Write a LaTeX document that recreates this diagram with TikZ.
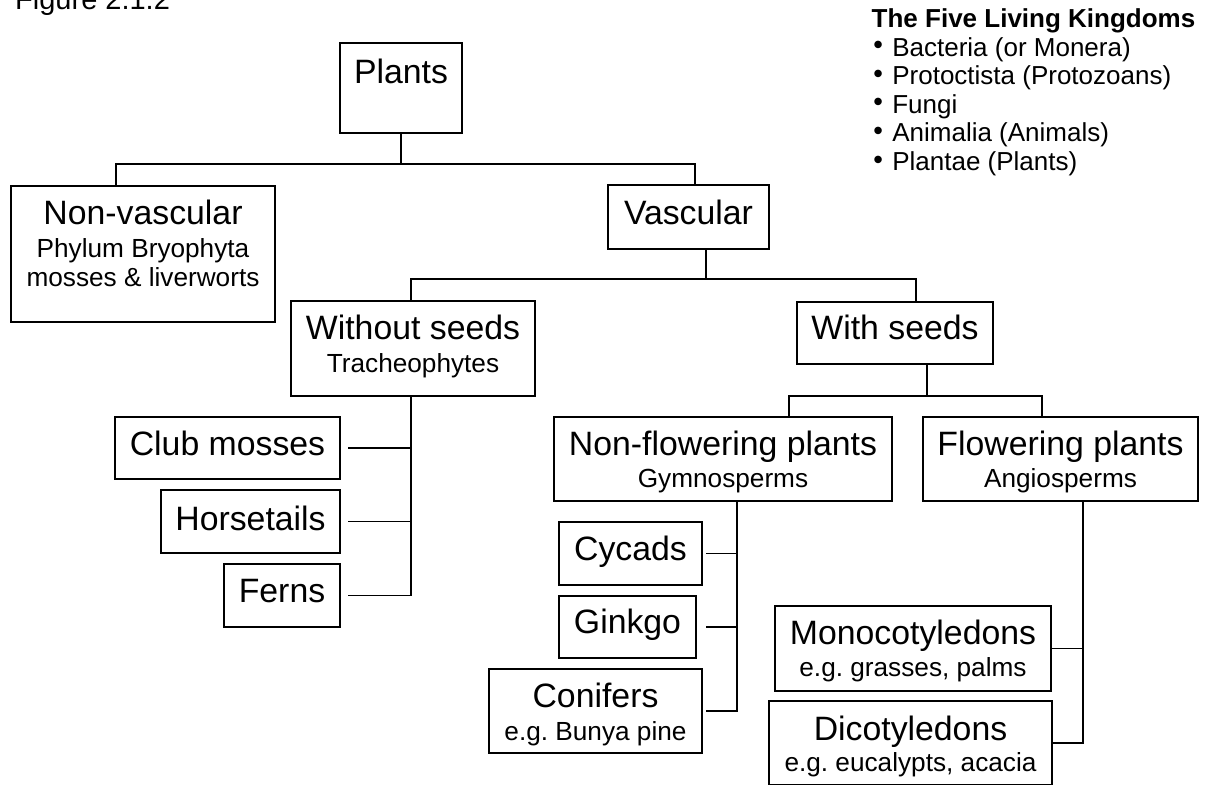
\documentclass[tikz,border=0pt]{standalone}
\usepackage{fontspec}
\setmainfont{Liberation Sans}
\newcommand{\tsub}[1]{{\fontsize{26.2}{29}\selectfont #1}}
\newcommand{\hgt}[1]{\rule{0pt}{#1pt}}
\newcommand{\dpt}[1]{\rule[-#1pt]{0pt}{#1pt}}
\newcommand{\kb}{\hspace*{2pt}\raisebox{2.5pt}{\textbf{\textbullet}}\hspace{9.5pt}}
\tikzset{
  box/.style={draw, line width=1.8pt, inner sep=0pt, align=center, font=\fontsize{33.8}{33}\selectfont},
  link/.style={line width=1.8pt}
}

\begin{document}
\frenchspacing
\begin{tikzpicture}[x=1pt,y=-1pt]
\useasboundingbox (0,0) rectangle (1209,784);
\node[anchor=base west, inner sep=0pt, font=\fontsize{29}{29}\selectfont] (fig) at (15,10) {Figure 2.1.2};
\node[anchor=north west, inner sep=0pt, align=left, font=\fontsize{26}{28.6}\selectfont] (kingdoms) at (871.5,8.5)
  {\textbf{The Five Living Kingdoms}\\ \kb Bacteria (or Monera)\\ \kb Protoctista (Protozoans)\\ \kb Fungi\\ \kb Animalia (Animals)\\ \kb Plantae (Plants)};

\node[box, minimum width=122pt, minimum height=90pt] (plants) at (401,88) {Plants\dpt{33}};
\node[box, minimum width=264pt, minimum height=136pt] (nonvasc) at (143,254)
  {Non-vascular\\ \tsub{Phylum Bryophyta}\\[-4pt] \tsub{mosses \& liverworts\dpt{22.2}}};
\node[box, minimum width=161pt, minimum height=64pt] (vasc) at (688.5,217) {Vascular\dpt{10.2}};
\node[box, minimum width=244pt, minimum height=95pt] (wos) at (413,348.5) {Without seeds\\ \tsub{Tracheophytes\dpt{10.2}}};
\node[box, minimum width=196pt, minimum height=62pt] (ws) at (895,333) {With seeds\dpt{11.4}};
\node[box, minimum width=225pt, minimum height=62pt] (club) at (227.5,448) {Club mosses\dpt{8.8}};
\node[box, minimum width=179pt, minimum height=63pt] (horse) at (250.5,521.5) {Horsetails\dpt{7.2}};
\node[box, minimum width=116pt, minimum height=63pt] (ferns) at (282,595.5) {Ferns\dpt{9.8}};
\node[box, minimum width=338pt, minimum height=84pt] (nonflow) at (723,459) {\hgt{29.5}Non-flowering plants\\[-1pt] \tsub{Gymnosperms}};
\node[box, minimum width=275pt, minimum height=84pt] (flow) at (1060.5,459) {\hgt{29.5}Flowering plants\\[-1pt] \tsub{Angiosperms}};
\node[box, minimum width=143pt, minimum height=63pt] (cycads) at (630.5,553.5) {Cycads\dpt{11.2}};
\node[box, minimum width=137pt, minimum height=62pt] (ginkgo) at (627.5,627) {Ginkgo\dpt{11.6}};
\node[box, minimum width=213pt, minimum height=84pt] (conifers) at (595.5,711) {\hgt{30.5}Conifers\\ \tsub{e.g. Bunya pine}};
\node[box, minimum width=276pt, minimum height=85pt] (mono) at (913,648.5) {\hgt{28.5}Monocotyledons\\[-1pt] \tsub{e.g. grasses, palms}};
\node[box, minimum width=283pt, minimum height=84pt] (dicot) at (910.5,743) {\hgt{30.5}Dicotyledons\\[-2pt] \tsub{e.g. eucalypts, acacia}};

% plants
\coordinate (b1) at (401,164);
\coordinate (b1l) at (116,164);
\coordinate (b1r) at (695,164);
\draw[link] (plants.south) -- (b1);
\draw[link] (nonvasc.north -| b1l) -- (b1l) -- (b1r) -- (vasc.north -| b1r);

% vascular
\coordinate (b2) at (706,279);
\coordinate (b2l) at (411,279);
\coordinate (b2r) at (916,279);
\draw[link] (vasc.south -| b2) -- (b2);
\draw[link] (wos.north -| b2l) -- (b2l) -- (b2r) -- (ws.north -| b2r);

% without seeds
\coordinate (s1) at (411,0);
\coordinate (e1) at (348,0);
\draw[link] (wos.south -| s1) -- (ferns.east -| s1) -- (ferns.east -| e1);
\draw[link] (club.east -| e1) -- (club.east -| s1);
\draw[link] (horse.east -| e1) -- (horse.east -| s1);

% with seeds
\coordinate (b3) at (927,396);
\coordinate (b3l) at (789,396);
\coordinate (b3r) at (1042,396);
\draw[link] (ws.south -| b3) -- (b3);
\draw[link] (nonflow.north -| b3l) -- (b3l) -- (b3r) -- (flow.north -| b3r);

% gymnosperms
\coordinate (s2) at (737,0);
\coordinate (e2) at (706,0);
\draw[link] (nonflow.south -| s2) -- (conifers.east -| s2) -- (conifers.east -| e2);
\draw[link] (cycads.east -| e2) -- (cycads.east -| s2);
\draw[link] (ginkgo.east -| e2) -- (ginkgo.east -| s2);

% angiosperms
\coordinate (s3) at (1083,0);
\draw[link] (flow.south -| s3) -- (dicot.east -| s3) -- (dicot.east);
\draw[link] (mono.east) -- (mono.east -| s3);
\end{tikzpicture}
\end{document}
